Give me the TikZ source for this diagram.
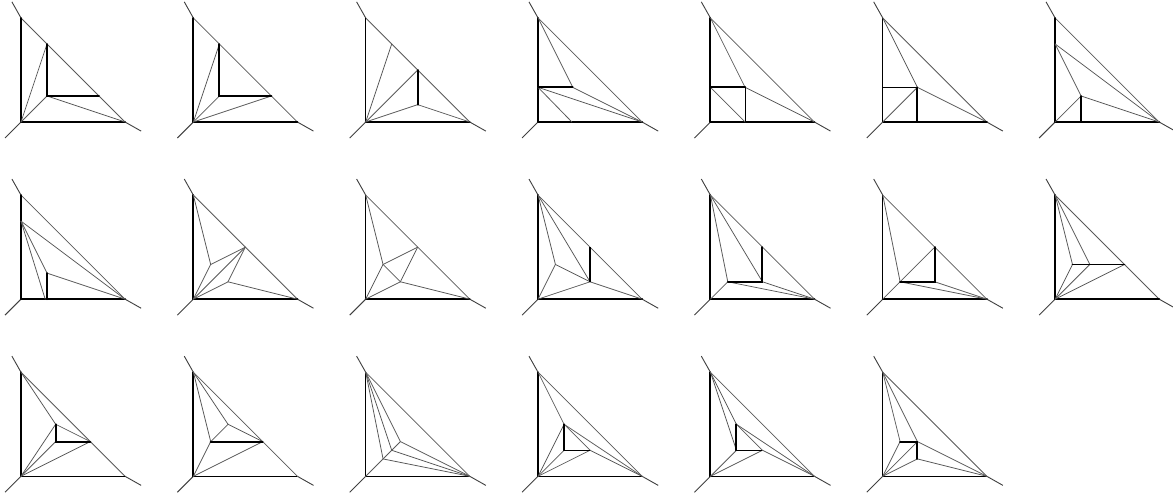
\documentclass[tikz,border=0pt]{standalone}
\usepackage{tikz}

\newcommand{\basetri}[2]{
    \coordinate (o) at (0,0);
    \coordinate (r) at (4,0);
    \coordinate (t) at (0,4);
    \coordinate (oend) at (-0.615,-0.615);
    \coordinate (rend) at (4.62,-0.35);
    \coordinate (tend) at (-0.35,4.62);
    \draw[tail] (o) -- (oend);
    \draw[tail] (r) -- (rend);
    \draw[tail] (t) -- (tend);
    \draw[thinedge] (t) -- (r);
    \draw[#1] (o) -- (t);
    \draw[#2] (o) -- (r);
}

\begin{document}
\begin{tikzpicture}[
      boldedge/.style={line width=2.1pt, black, line cap=round},
      midedge/.style={line width=1.3pt, black},
      thinedge/.style={line width=0.85pt, black!65, line cap=round},
      tail/.style={line width=1pt, black!75},
      panel/.style 2 args={shift={({0.808+6.629*#1},{14.423-6.813*#2})}}
    ]
    \useasboundingbox (0,0) rectangle (1173/26,497/26);

    % first row
    \begin{scope}[panel={0}{0}]
      \basetri{boldedge}{boldedge}
      \coordinate (a) at (1,3);
      \coordinate (b) at (1,1);
      \coordinate (c) at (3,1);
      \draw[thinedge] (o) -- (a);
      \draw[thinedge] (o) -- (b);
      \draw[thinedge] (b) -- (r);
      \draw[boldedge] (a) -- (b) -- (c);
    \end{scope}

    \begin{scope}[panel={1}{0}]
      \basetri{boldedge}{boldedge}
      \coordinate (a) at (1,3);
      \coordinate (b) at (1,1);
      \coordinate (c) at (3,1);
      \draw[thinedge] (o) -- (a);
      \draw[thinedge] (o) -- (b);
      \draw[thinedge] (o) -- (c);
      \draw[boldedge] (a) -- (b) -- (c);
    \end{scope}

    \begin{scope}[panel={2}{0}]
      \basetri{midedge}{boldedge}
      \coordinate (a) at (1,3);
      \coordinate (b) at (2,2);
      \coordinate (c) at (2,2/3);
      \draw[thinedge] (o) -- (a);
      \draw[thinedge] (o) -- (b);
      \draw[thinedge] (o) -- (c);
      \draw[thinedge] (c) -- (r);
      \draw[boldedge] (b) -- (c);
    \end{scope}

    \begin{scope}[panel={3}{0}]
      \basetri{boldedge}{boldedge}
      \coordinate (a) at (0,4/3);
      \coordinate (b) at (4/3,4/3);
      \coordinate (c) at (1.3,0);
      \draw[thinedge] (t) -- (b);
      \draw[thinedge] (b) -- (r);
      \draw[thinedge] (a) -- (r);
      \draw[thinedge] (a) -- (c);
      \draw[boldedge] (a) -- (b);
    \end{scope}

    \begin{scope}[panel={4}{0}]
      \basetri{boldedge}{boldedge}
      \coordinate (a) at (0,4/3);
      \coordinate (b) at (4/3,4/3);
      \coordinate (c) at (4/3,0);
      \draw[thinedge] (t) -- (b);
      \draw[thinedge] (b) -- (r);
      \draw[thinedge] (a) -- (c);
      \draw[midedge] (b) -- (c);
      \draw[boldedge] (a) -- (b);
    \end{scope}

    \begin{scope}[panel={5}{0}]
      \basetri{midedge}{midedge}
      \coordinate (a) at (0,4/3);
      \coordinate (b) at (4/3,4/3);
      \coordinate (c) at (4/3,0);
      \draw[thinedge] (t) -- (b);
      \draw[thinedge] (b) -- (r);
      \draw[thinedge] (o) -- (b);
      \draw[midedge] (a) -- (b);
      \draw[boldedge] (b) -- (c) -- (r);
    \end{scope}

    \begin{scope}[panel={6}{0}]
      \basetri{boldedge}{boldedge}
      \coordinate (a) at (0,3);
      \coordinate (b) at (1,1);
      \coordinate (c) at (1,0);
      \draw[thinedge] (o) -- (b);
      \draw[thinedge] (a) -- (b);
      \draw[thinedge] (a) -- (r);
      \draw[thinedge] (b) -- (r);
      \draw[boldedge] (b) -- (c);
    \end{scope}

    % second row
    \begin{scope}[panel={0}{1}]
      \basetri{boldedge}{boldedge}
      \coordinate (a) at (0,3);
      \coordinate (b) at (1,1);
      \coordinate (c) at (1,0);
      \coordinate (d) at (0.93,0);
      \draw[thinedge] (a) -- (d);
      \draw[thinedge] (a) -- (b);
      \draw[thinedge] (a) -- (r);
      \draw[thinedge] (b) -- (r);
      \draw[boldedge] (b) -- (c);
    \end{scope}

    \begin{scope}[panel={1}{1}]
      \basetri{boldedge}{boldedge}
      \coordinate (a) at (2/3,4/3);
      \coordinate (b) at (2,2);
      \coordinate (c) at (4/3,2/3);
      \draw[thinedge] (t) -- (a);
      \draw[thinedge] (o) -- (a);
      \draw[thinedge] (a) -- (b);
      \draw[thinedge] (o) -- (b);
      \draw[thinedge] (o) -- (c);
      \draw[thinedge] (c) -- (b);
      \draw[thinedge] (c) -- (r);
    \end{scope}

    \begin{scope}[panel={2}{1}]
      \basetri{midedge}{boldedge}
      \coordinate (a) at (2/3,4/3);
      \coordinate (b) at (2,2);
      \coordinate (c) at (4/3,2/3);
      \draw[thinedge] (t) -- (a);
      \draw[thinedge] (o) -- (a);
      \draw[thinedge] (a) -- (b);
      \draw[thinedge] (a) -- (c);
      \draw[thinedge] (c) -- (b);
      \draw[thinedge] (o) -- (c);
      \draw[thinedge] (c) -- (r);
    \end{scope}

    \begin{scope}[panel={3}{1}]
      \basetri{boldedge}{boldedge}
      \coordinate (a) at (2/3,4/3);
      \coordinate (b) at (2,2);
      \coordinate (c) at (2,2/3);
      \draw[thinedge] (t) -- (a);
      \draw[thinedge] (o) -- (a);
      \draw[thinedge] (a) -- (c);
      \draw[thinedge] (t) -- (c);
      \draw[thinedge] (o) -- (c);
      \draw[thinedge] (c) -- (r);
      \draw[midedge] (b) -- (c);
    \end{scope}

    \begin{scope}[panel={4}{1}]
      \basetri{boldedge}{boldedge}
      \coordinate (a) at (2/3,2/3);
      \coordinate (b) at (2,2);
      \coordinate (c) at (2,2/3);
      \draw[thinedge] (t) -- (a);
      \draw[thinedge] (t) -- (c);
      \draw[thinedge] (o) -- (a);
      \draw[thinedge] (a) -- (r);
      \draw[thinedge] (c) -- (r);
      \draw[boldedge] (b) -- (c) -- (a);
    \end{scope}

    \begin{scope}[panel={5}{1}]
      \basetri{midedge}{boldedge}
      \coordinate (a) at (2/3,2/3);
      \coordinate (b) at (2,2);
      \coordinate (c) at (2,2/3);
      \draw[thinedge] (t) -- (a);
      \draw[thinedge] (o) -- (a);
      \draw[thinedge] (a) -- (b);
      \draw[thinedge] (a) -- (r);
      \draw[thinedge] (c) -- (r);
      \draw[boldedge] (b) -- (c) -- (a);
    \end{scope}

    \begin{scope}[panel={6}{1}]
      \basetri{boldedge}{boldedge}
      \coordinate (a) at (2/3,4/3);
      \coordinate (b) at (4/3,4/3);
      \coordinate (c) at (8/3,4/3);
      \draw[thinedge] (t) -- (a);
      \draw[thinedge] (t) -- (b);
      \draw[thinedge] (o) -- (a);
      \draw[thinedge] (o) -- (b);
      \draw[thinedge] (o) -- (c);
      \draw[boldedge] (a) -- (c);
    \end{scope}

    % third row
    \begin{scope}[panel={0}{2}]
      \basetri{boldedge}{midedge}
      \coordinate (a) at (4/3,2);
      \coordinate (b) at (4/3,4/3);
      \coordinate (c) at (8/3,4/3);
      \draw[thinedge] (t) -- (a);
      \draw[thinedge] (o) -- (a);
      \draw[thinedge] (o) -- (b);
      \draw[thinedge] (o) -- (c);
      \draw[thinedge] (a) -- (c);
      \draw[boldedge] (a) -- (b) -- (c);
    \end{scope}

    \begin{scope}[panel={1}{2}]
      \basetri{boldedge}{midedge}
      \coordinate (a) at (2/3,4/3);
      \coordinate (b) at (4/3,2);
      \coordinate (c) at (8/3,4/3);
      \draw[thinedge] (t) -- (a);
      \draw[thinedge] (t) -- (b);
      \draw[thinedge] (a) -- (b);
      \draw[thinedge] (b) -- (c);
      \draw[thinedge] (o) -- (a);
      \draw[thinedge] (o) -- (c);
      \draw[boldedge] (a) -- (c);
    \end{scope}

    \begin{scope}[panel={2}{2}]
      \basetri{midedge}{midedge}
      \coordinate (a) at (4/3,4/3);
      \coordinate (b) at (1,1);
      \coordinate (c) at (2/3,2/3);
      \draw[thinedge] (t) -- (a);
      \draw[thinedge] (t) -- (b);
      \draw[thinedge] (t) -- (c);
      \draw[thinedge] (o) -- (a);
      \draw[thinedge] (a) -- (r);
      \draw[thinedge] (b) -- (r);
      \draw[thinedge] (c) -- (r);
    \end{scope}

    \begin{scope}[panel={3}{2}]
      \basetri{boldedge}{midedge}
      \coordinate (a) at (1,2);
      \coordinate (b) at (1,1);
      \coordinate (c) at (2,1);
      \draw[thinedge] (t) -- (a);
      \draw[thinedge] (o) -- (a);
      \draw[thinedge] (o) -- (b);
      \draw[thinedge] (o) -- (c);
      \draw[thinedge] (a) -- (c);
      \draw[thinedge] (a) -- (r);
      \draw[thinedge] (c) -- (r);
      \draw[midedge] (b) -- (c);
      \draw[boldedge] (a) -- (b);
    \end{scope}

    \begin{scope}[panel={4}{2}]
      \basetri{boldedge}{midedge}
      \coordinate (a) at (1,2);
      \coordinate (b) at (1,1);
      \coordinate (c) at (2,1);
      \draw[thinedge] (t) -- (a);
      \draw[thinedge] (t) -- (b);
      \draw[thinedge] (o) -- (b);
      \draw[thinedge] (o) -- (c);
      \draw[thinedge] (a) -- (c);
      \draw[thinedge] (a) -- (r);
      \draw[thinedge] (c) -- (r);
      \draw[midedge] (b) -- (c);
      \draw[boldedge] (a) -- (b);
    \end{scope}

    \begin{scope}[panel={5}{2}]
      \basetri{midedge}{midedge}
      \coordinate (a) at (2/3,4/3);
      \coordinate (b) at (4/3,4/3);
      \coordinate (c) at (4/3,2/3);
      \draw[thinedge] (t) -- (a);
      \draw[thinedge] (t) -- (b);
      \draw[thinedge] (o) -- (a);
      \draw[thinedge] (o) -- (b);
      \draw[thinedge] (o) -- (c);
      \draw[thinedge] (b) -- (r);
      \draw[thinedge] (c) -- (r);
      \draw[boldedge] (a) -- (b) -- (c);
    \end{scope}
  \end{tikzpicture}
\end{document}
